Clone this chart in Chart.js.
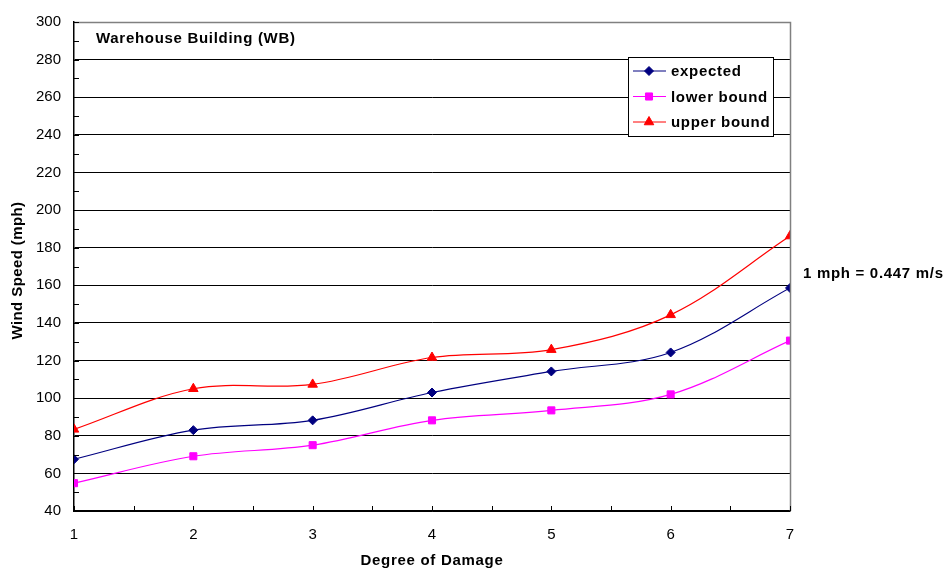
<!DOCTYPE html>
<html>
<head>
<meta charset="utf-8">
<script src="https://cdn.jsdelivr.net/npm/chart.js@4"></script>
<style>
  html, body { margin: 0; padding: 0; background: #fff; }
  #wrap { width: 944px; height: 570px; }
</style>
</head>
<body>
<div id="wrap"><canvas id="chart1" width="944" height="570"></canvas></div>
<script>
// values
const degrees = [1, 2, 3, 4, 5, 6, 7];
const expected = [67.5, 83, 88.2, 103, 114.2, 124.3, 158.6];
const lowerBound = [54.8, 69.1, 75, 88.2, 93.5, 102, 130.6];
const upperBound = [83.4, 105, 107.3, 121.6, 125.8, 144.3, 186.2];
const chartTitle = 'Warehouse Building (WB)';
const noteText = '1 mph = 0.447 m/s';
const xTitle = 'Degree of Damage';
const yTitle = 'Wind Speed (mph)';

const FONT = '"Liberation Sans", Arial, sans-serif';
const BOLD = 'bold 15px ' + FONT;

function toPoints(vals) {
    return degrees.map((d, i) => ({ x: d, y: vals[i] }));
}

const seriesList = [
    { label: 'expected', color: '#000080', style: 'rectRot', radius: 4.5, values: expected },
    { label: 'lower bound', color: '#FF00FF', style: 'rect', radius: 5, values: lowerBound },
    { label: 'upper bound', color: '#FF0000', style: 'triangle', radius: 5.5, values: upperBound },
];

// frame, inward ticks, titles, legend box and note
const extrasPlugin = {
    id: 'extras',
    afterDraw(chart) {
        const ctx = chart.ctx;
        const a = chart.chartArea;
        const xs = chart.scales.x;
        const ys = chart.scales.y;
        ctx.save();

        // grey top / right border
        ctx.strokeStyle = '#808080';
        ctx.lineWidth = 1.5;
        ctx.beginPath();
        ctx.moveTo(a.left, a.top + 0.5);
        ctx.lineTo(a.right + 0.5, a.top + 0.5);
        ctx.lineTo(a.right + 0.5, a.bottom);
        ctx.stroke();

        // inward tick marks
        ctx.strokeStyle = '#000';
        ctx.lineWidth = 1;
        ctx.beginPath();
        for (let v = 40; v <= 300; v += 10) {
            const py = Math.round(ys.getPixelForValue(v)) + 0.5;
            ctx.moveTo(a.left, py);
            ctx.lineTo(a.left + 5, py);
        }
        for (let v = 1; v <= 7; v += 0.5) {
            const px = Math.round(xs.getPixelForValue(v)) + 0.5;
            ctx.moveTo(px, a.bottom);
            ctx.lineTo(px, a.bottom - 5);
        }
        ctx.stroke();

        ctx.fillStyle = '#000';
        ctx.font = BOLD;
        ctx.letterSpacing = '0.7px';
        ctx.textBaseline = 'middle';

        // title inside plot
        ctx.textAlign = 'left';
        ctx.fillText(chartTitle, a.left + 22, a.top + 17);

        // note on the right
        ctx.fillText(noteText, a.right + 13, ys.getPixelForValue(166));

        // axis titles
        ctx.textAlign = 'center';
        ctx.fillText(xTitle, (a.left + a.right) / 2, 561);
        ctx.save();
        ctx.letterSpacing = '0.4px';
        ctx.translate(18, (a.top + a.bottom) / 2 + 4);
        ctx.rotate(-Math.PI / 2);
        ctx.fillText(yTitle, 0, 0);
        ctx.restore();

        // legend box
        const bx = 628, by = 57, bw = 145, bh = 79;
        ctx.fillStyle = '#fff';
        ctx.fillRect(bx, by, bw, bh);
        ctx.strokeStyle = '#000';
        ctx.lineWidth = 1;
        ctx.strokeRect(bx + 0.5, by + 0.5, bw, bh);
        seriesList.forEach((s, i) => {
            const ry = by + 14 + i * 25.5;
            ctx.strokeStyle = s.color;
            ctx.lineWidth = 1;
            ctx.beginPath();
            ctx.moveTo(bx + 5, ry);
            ctx.lineTo(bx + 38, ry);
            ctx.stroke();
            ctx.fillStyle = s.color;
            Chart.helpers.drawPoint(ctx, { pointStyle: s.style, radius: s.radius, borderWidth: 1 }, bx + 21, ry);
            ctx.fillStyle = '#000';
            ctx.font = BOLD;
            ctx.textAlign = 'left';
            ctx.fillText(s.label, bx + 43, ry + 1);
        });
        ctx.restore();
    }
};

new Chart(document.getElementById('chart1'), {
    type: 'line',
    data: {
        datasets: seriesList.map(s => ({
            label: s.label,
            data: toPoints(s.values),
            borderColor: s.color,
            backgroundColor: s.color,
            borderWidth: 1.2,
            pointStyle: s.style,
            pointRadius: s.radius,
            pointBorderWidth: 1,
            tension: 0.35,
            fill: false,
        })),
    },
    options: {
        responsive: false,
        animation: false,
        layout: { padding: { left: 0, right: 154, top: 20, bottom: 0 } },
        scales: {
            x: {
                type: 'linear',
                min: 1,
                max: 7,
                afterFit: scale => { scale.height = 59; },
                grid: { display: false, drawTicks: false },
                border: { color: '#000', width: 1.5 },
                ticks: {
                    stepSize: 1,
                    padding: 15,
                    color: '#000',
                    font: { family: FONT, size: 15 },
                },
            },
            y: {
                min: 40,
                max: 300,
                afterFit: scale => { scale.width = 74; },
                grid: { color: '#000', lineWidth: 1, drawTicks: false },
                border: { color: '#000', width: 1.5 },
                ticks: {
                    stepSize: 20,
                    padding: 13,
                    color: '#000',
                    font: { family: FONT, size: 15 },
                },
            },
        },
        plugins: {
            legend: { display: false },
            tooltip: { enabled: false },
        },
    },
    plugins: [extrasPlugin],
});
</script>
</body>
</html>
